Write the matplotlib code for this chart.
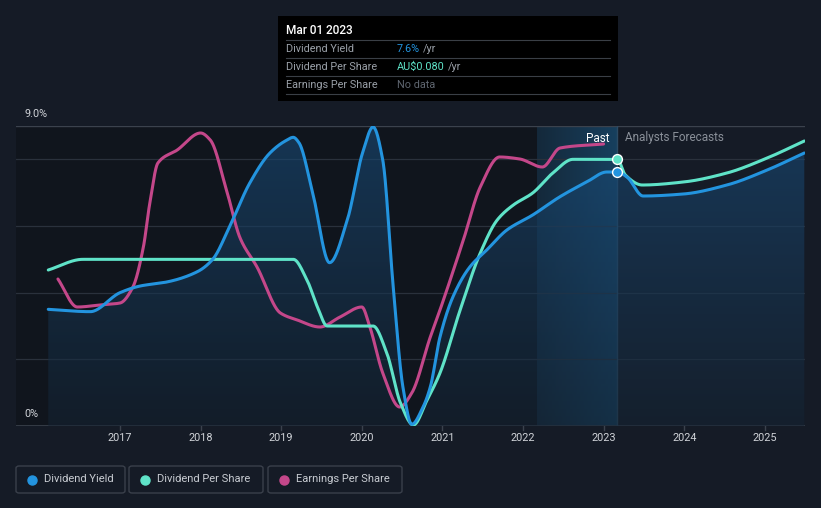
import numpy as np
import matplotlib
matplotlib.use("Agg")
import matplotlib.pyplot as plt
from matplotlib.patches import Rectangle, FancyBboxPatch
from matplotlib.colors import LinearSegmentedColormap

# ---------------- data ----------------
yield_x = [2016.11, 2016.63, 2017.0, 2017.25, 2017.58, 2017.96, 2018.15, 2018.36, 2018.61, 2018.86,
           2019.05, 2019.15, 2019.22, 2019.39, 2019.6, 2019.82, 2020.01, 2020.14, 2020.26, 2020.39,
           2020.51, 2020.62, 2020.76, 2020.85, 2020.97, 2021.13, 2021.34, 2021.55, 2021.8, 2022.12,
           2022.46, 2022.79, 2023.04, 2023.17, 2023.29, 2023.49, 2023.99, 2024.53, 2025.03, 2025.49]
yield_y = [3.5, 3.43, 4.0, 4.2, 4.32, 4.63, 5.0, 5.98, 7.29, 8.19,
           8.55, 8.66, 8.5, 7.0, 4.9, 6.18, 8.2, 8.97, 7.98, 4.17,
           1.17, 0.05, 0.57, 1.17, 2.67, 3.87, 4.77, 5.28, 5.88, 6.33,
           6.88, 7.32, 7.62, 7.62, 7.47, 6.9, 6.96, 7.23, 7.68, 8.19]

dps_x = [2016.11, 2016.54, 2019.15, 2019.32, 2019.45, 2019.57, 2020.14, 2020.31, 2020.48,
         2020.64, 2020.81, 2020.97, 2021.22, 2021.47, 2021.68, 2021.88, 2022.12, 2022.37, 2022.62,
         2023.17, 2023.27, 2023.48, 2023.99, 2024.53, 2025.03, 2025.49]
dps_y = [4.68, 5.0, 5.0, 4.38, 3.57, 3.0, 3.0, 2.19, 0.69,
         0.03, 0.78, 1.59, 3.48, 5.19, 6.18, 6.63, 6.99, 7.59, 8.0,
         8.0, 7.53, 7.23, 7.32, 7.59, 8.04, 8.55]

eps_x = [2016.23, 2016.47, 2016.75, 2017.0, 2017.16, 2017.29, 2017.37, 2017.47, 2017.71, 2018.0,
         2018.12, 2018.33, 2018.49, 2018.7, 2018.99, 2019.2, 2019.48, 2019.73, 2020.0, 2020.1,
         2020.26, 2020.47, 2020.62, 2020.85, 2020.97, 2021.26, 2021.47, 2021.71, 2021.96, 2022.24,
         2022.46, 2023.0]
eps_y = [4.41, 3.57, 3.63, 3.69, 4.17, 5.37, 6.69, 7.89, 8.28, 8.79,
         8.58, 7.0, 5.64, 4.77, 3.39, 3.18, 2.97, 3.27, 3.57, 2.97,
         1.59, 0.57, 0.99, 2.67, 3.48, 5.58, 7.17, 8.07, 8.01, 7.77,
         8.34, 8.46]

year_ticks = [2017, 2018, 2019, 2020, 2021, 2022, 2023, 2024, 2025]
grid_vals = [2, 4, 6, 8]
marker_date = 2023.17
band_start = 2022.17

legend_labels = ["Dividend Yield", "Dividend Per Share", "Earnings Per Share"]
c_yield = "#2394df"
c_dps = "#5fe3c8"
c_eps = "#c4478a"

# ---------------- helpers ----------------
W, H = 821, 508


def fx(px):
    return px / W


def fy(py):
    return 1 - py / H


def pchip(x, y, n=600):
    x = np.asarray(x, float)
    y = np.asarray(y, float)
    h = np.diff(x)
    d = np.diff(y) / h
    m = np.zeros_like(y)
    for k in range(1, len(x) - 1):
        if d[k - 1] * d[k] <= 0:
            m[k] = 0
        else:
            w1 = 2 * h[k] + h[k - 1]
            w2 = h[k] + 2 * h[k - 1]
            m[k] = (w1 + w2) / (w1 / d[k - 1] + w2 / d[k])
    m[0] = d[0]
    m[-1] = d[-1]
    xs = np.linspace(x[0], x[-1], n)
    idx = np.clip(np.searchsorted(x, xs) - 1, 0, len(x) - 2)
    t = (xs - x[idx]) / h[idx]
    h00 = 2 * t**3 - 3 * t**2 + 1
    h10 = t**3 - 2 * t**2 + t
    h01 = -2 * t**3 + 3 * t**2
    h11 = t**3 - t**2
    ys = h00 * y[idx] + h10 * h[idx] * m[idx] + h01 * y[idx + 1] + h11 * h[idx] * m[idx + 1]
    return xs, ys


# ---------------- figure ----------------
bg = "#151b26"
past_bg = "#10151d"
fig = plt.figure(figsize=(W / 100, H / 100), dpi=100, facecolor=bg)

x_left_px, x_right_px = 16, 805
top_px, bot_px = 126, 426
ax = fig.add_axes([fx(x_left_px), fy(bot_px), fx(x_right_px) - fx(x_left_px), fy(top_px) - fy(bot_px)])
px_per_year = 80.6
xmin = 2017 + (x_left_px - 120) / px_per_year
xmax = 2017 + (x_right_px - 120) / px_per_year
ax.set_facecolor(bg)
for s in ax.spines.values():
    s.set_visible(False)
ax.set_xticks([])
ax.set_yticks([])

# darker past background
ax.add_patch(Rectangle((xmin, 0), marker_date - xmin, 9, facecolor=past_bg, edgecolor="none", zorder=0))

# highlight band with gradient
grad = np.linspace(0, 1, 256).reshape(1, -1)
band_cmap = LinearSegmentedColormap.from_list("band", [(0.08, 0.16, 0.23, 1.0), (0.09, 0.25, 0.37, 1.0)])
ax.imshow(grad, extent=[band_start, marker_date, 0, 9], aspect="auto", cmap=band_cmap, zorder=0.5)

# grid lines
for g in grid_vals:
    ax.axhline(g, color="#2a313c", lw=0.9, zorder=1)
ax.axhline(9, color="#3b424d", lw=1.0, zorder=1)
ax.axhline(0, color="#3b424d", lw=1.2, zorder=1)

# vertical marker line
ax.axvline(marker_date, color="#2c4a63", lw=1.0, zorder=1.5)

# yield fill with vertical gradient
yx, yy = pchip(yield_x, yield_y, 1500)
fill = ax.fill_between(yx, 0, yy, facecolor="none", edgecolor="none", zorder=2)
vgrad = np.linspace(1, 0, 256).reshape(-1, 1)
fill_cmap = LinearSegmentedColormap.from_list("fill", [(0.08, 0.14, 0.20, 0.55), (0.10, 0.30, 0.48, 0.6)])
im = ax.imshow(vgrad, extent=[xmin, xmax, 0, 9], aspect="auto", cmap=fill_cmap, zorder=2, origin="upper")
im.set_clip_path(fill.get_paths()[0], transform=ax.transData)
ax.set_xlim(xmin, xmax)
ax.set_ylim(0, 9)

# lines
dx, dy = pchip(dps_x, dps_y, 1500)
ex, ey = pchip(eps_x, eps_y, 1500)
ax.plot(ex, ey, color=c_eps, lw=2.2, zorder=3, solid_capstyle="round")
ax.plot(dx, dy, color=c_dps, lw=2.2, zorder=3.2, solid_capstyle="round")
ax.plot(yx, yy, color=c_yield, lw=2.2, zorder=3.4, solid_capstyle="round")

# markers at marker date
ax.scatter([marker_date], [np.interp(marker_date, dps_x, dps_y)], s=50, color=c_dps,
           edgecolor="white", linewidth=1.0, zorder=5)
ax.scatter([marker_date], [np.interp(marker_date, yield_x, yield_y)], s=50, color=c_yield,
           edgecolor="white", linewidth=1.0, zorder=5)

# Past / Analysts Forecasts labels
fig.text(fx(609), fy(138), "Past", color="white", fontsize=8.5, ha="right", va="center", family="Roboto")
fig.text(fx(625), fy(138), "Analysts Forecasts", color="#8a9099", fontsize=8.5, ha="left", va="center",
         family="Roboto")

# y labels
fig.text(fx(24), fy(114), "9.0%", color="#d0d3d8", fontsize=7.8, ha="left", va="center", family="Roboto")
fig.text(fx(24), fy(414), "0%", color="#d0d3d8", fontsize=7.8, ha="left", va="center", family="Roboto")

# x tick labels and tick marks
for yr in year_ticks:
    px = 120 + (yr - 2017) * px_per_year
    fig.text(fx(px), fy(438), str(yr), color="#d0d3d8", fontsize=7.8, ha="center", va="center",
             family="Roboto")
    ax.plot([yr, yr], [0, -0.12], color="#3b424d", lw=1, clip_on=False, zorder=1)

# tooltip
tip = Rectangle((fx(278), fy(101)), fx(618) - fx(278), fy(16) - fy(101), transform=fig.transFigure,
                facecolor="#000000", edgecolor="none", zorder=10)
fig.add_artist(tip)
fig.text(fx(286), fy(31), "Mar 01 2023", color="white", fontsize=8.5, ha="left", va="center",
         family="Roboto", fontweight="medium", zorder=11)
rows = [("Dividend Yield", "7.6%", c_yield), ("Dividend Per Share", "AU$0.080", c_dps),
        ("Earnings Per Share", "No data", "#5f6670")]
for i, (lab, val, col) in enumerate(rows):
    yrow = 49 + i * 18
    fig.add_artist(plt.Line2D([fx(286), fx(610)], [fy(yrow - 9), fy(yrow - 9)], transform=fig.transFigure,
                              color="#3a3f46", lw=0.8, zorder=11))
    fig.text(fx(286), fy(yrow), lab, color="#9aa0a8", fontsize=7.8, ha="left", va="center",
             family="Roboto", zorder=11)
    t = fig.text(fx(397), fy(yrow), val, color=col, fontsize=7.8, ha="left", va="center",
                 family="Roboto", zorder=11)
    if val != "No data":
        fig.canvas.draw()
        bb = t.get_window_extent()
        fig.text(bb.x1 / W + fx(3), fy(yrow), "/yr", color="#9aa0a8", fontsize=7.8, ha="left",
                 va="center", family="Roboto", zorder=11)
fig.add_artist(plt.Line2D([fx(286), fx(610)], [fy(94), fy(94)], transform=fig.transFigure,
                          color="#3a3f46", lw=0.8, zorder=11))

# legend
boxes = [(16, 125), (129, 263), (268, 402)]
cols = [c_yield, c_dps, c_eps]
for (x0, x1), lab, col in zip(boxes, legend_labels, cols):
    r = FancyBboxPatch((fx(x0), fy(493)), fx(x1) - fx(x0), fy(466) - fy(493), transform=fig.transFigure,
                       boxstyle="round,pad=0,rounding_size=0.004", facecolor="none", edgecolor="#3a404b",
                       lw=1.0)
    fig.add_artist(r)
    fig.add_artist(plt.Line2D([fx(x0 + 16)], [fy(479.5)], marker="o", markersize=6.5, color=col,
                              transform=fig.transFigure, linestyle="none"))
    fig.text(fx(x0 + 28), fy(479.5), lab, color="#c8ccd2", fontsize=8, ha="left", va="center",
             family="Roboto")

fig.savefig("out.png", dpi=100, facecolor=bg)
